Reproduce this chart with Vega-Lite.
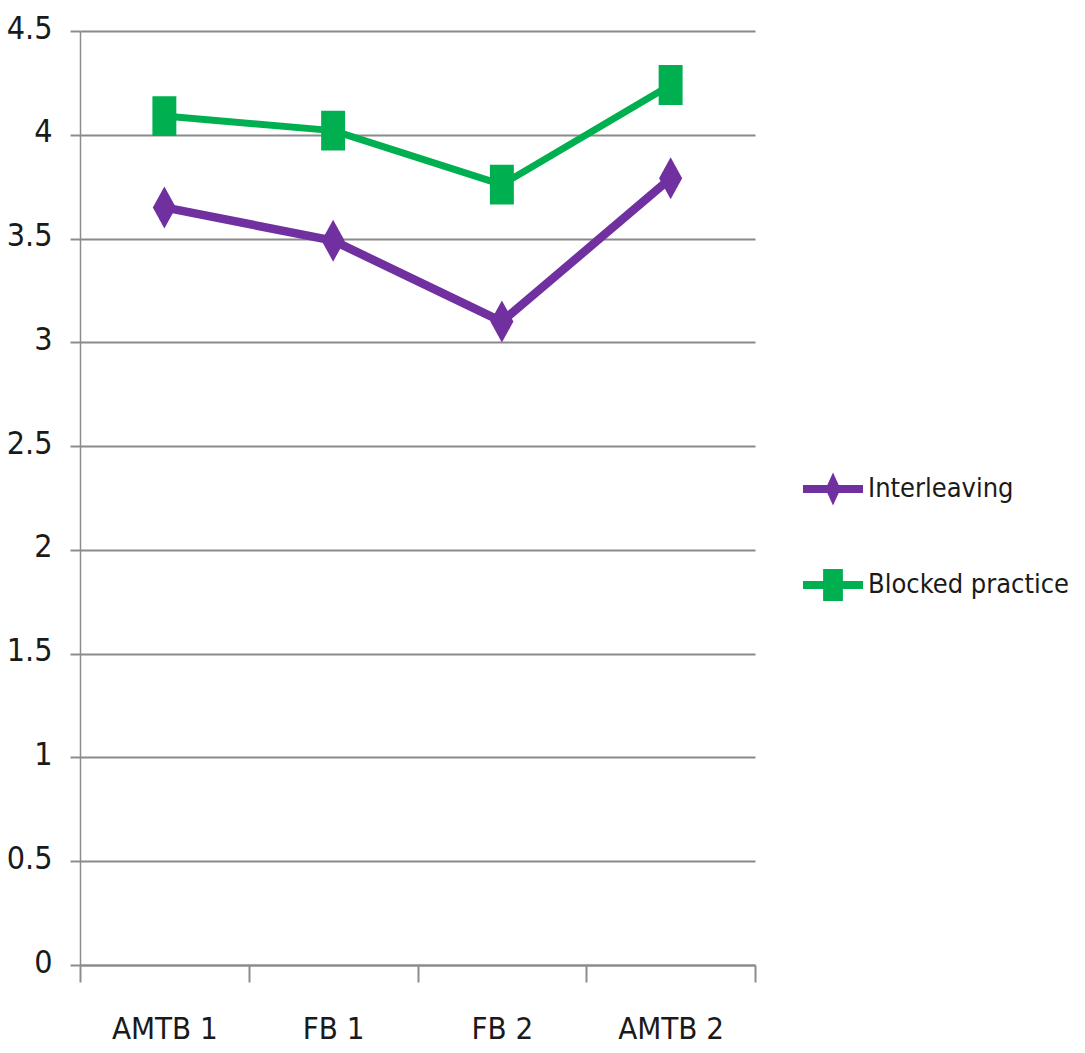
{
  "$schema": "https://vega.github.io/schema/vega-lite/v6.json",
  "autosize": {"type": "none"},
  "padding": {"left": 80, "top": 31, "right": 330, "bottom": 88},
  "width": 675,
  "height": 934,
  "background": "white",
  "config": {
    "view": {"stroke": null},
    "font": "Liberation Sans Narrow, DejaVu Sans Condensed, Liberation Sans, sans-serif"
  },
  "data": {
    "values": [
      {"session": "AMTB 1", "group": "Interleaving", "score": 3.65},
      {"session": "FB 1", "group": "Interleaving", "score": 3.49},
      {"session": "FB 2", "group": "Interleaving", "score": 3.10},
      {"session": "AMTB 2", "group": "Interleaving", "score": 3.79},
      {"session": "AMTB 1", "group": "Blocked practice", "score": 4.09},
      {"session": "FB 1", "group": "Blocked practice", "score": 4.02},
      {"session": "FB 2", "group": "Blocked practice", "score": 3.76},
      {"session": "AMTB 2", "group": "Blocked practice", "score": 4.24}
    ]
  },
  "encoding": {
    "x": {
      "field": "session",
      "type": "nominal",
      "sort": ["AMTB 1", "FB 1", "FB 2", "AMTB 2"],
      "scale": {"type": "band", "paddingInner": 0, "paddingOuter": 0},
      "axis": {
        "title": null,
        "labelAngle": 0,
        "labelFontSize": 31,
        "labelColor": "#1a1a1a",
        "labelPadding": 32,
        "tickBand": "extent",
        "tickSize": 17,
        "tickColor": "#8c8c8c",
        "tickWidth": 2,
        "domainColor": "#8c8c8c",
        "domainWidth": 2,
        "grid": false
      }
    },
    "y": {
      "field": "score",
      "type": "quantitative",
      "scale": {"domain": [0, 4.5], "nice": false, "zero": true},
      "axis": {
        "title": null,
        "values": [0, 0.5, 1, 1.5, 2, 2.5, 3, 3.5, 4, 4.5],
        "format": "~g",
        "labelFontSize": 32,
        "labelColor": "#1a1a1a",
        "labelPadding": 18,
        "labelOffset": -3,
        "tickSize": 10,
        "tickColor": "#8c8c8c",
        "tickWidth": 2,
        "domainColor": "#8c8c8c",
        "domainWidth": 1.5,
        "grid": true,
        "gridColor": "#8a8a8a",
        "gridWidth": 2
      }
    },
    "color": {
      "field": "group",
      "type": "nominal",
      "scale": {
        "domain": ["Interleaving", "Blocked practice"],
        "range": ["#7030A0", "#00B050"]
      },
      "legend": {
        "title": null,
        "orient": "none",
        "legendX": 723,
        "legendY": 428,
        "padding": 0,
        "symbolSize": 3600,
        "symbolStrokeWidth": 0,
        "labelFontSize": 27,
        "labelColor": "#1a1a1a",
        "labelOffset": 5,
        "labelLimit": 0,
        "rowPadding": 49,
        "encode": {
          "symbols": {
            "update": {
              "shape": {
                "signal": "datum.value === 'Interleaving' ? 'M-1,-0.13L1,-0.13L1,0.13L-1,0.13ZM0,-0.55L0.25,0L0,0.55L-0.25,0Z' : 'M-1,-0.13L1,-0.13L1,0.13L-1,0.13ZM-0.33,-0.53L0.33,-0.53L0.33,0.53L-0.33,0.53Z'"
              },
              "fill": {"scale": "color", "field": "value"},
              "opacity": {"value": 1},
              "strokeWidth": {"value": 0}
            }
          }
        }
      }
    }
  },
  "layer": [
    {
      "transform": [{"filter": "datum.group === 'Interleaving'"}],
      "mark": {"type": "line", "strokeJoin": "round", "strokeWidth": 8.5}
    },
    {
      "transform": [{"filter": "datum.group === 'Blocked practice'"}],
      "mark": {"type": "line", "strokeJoin": "round", "strokeWidth": 7}
    },
    {
      "transform": [{"filter": "datum.group === 'Interleaving'"}],
      "mark": {
        "type": "point",
        "filled": true,
        "opacity": 1,
        "size": 1764,
        "shape": "M0,-1L0.55,0L0,1L-0.55,0Z"
      }
    },
    {
      "transform": [{"filter": "datum.group === 'Blocked practice'"}],
      "mark": {
        "type": "point",
        "filled": true,
        "opacity": 1,
        "size": 1764,
        "shape": "M-0.57,-0.95L0.57,-0.95L0.57,0.95L-0.57,0.95Z"
      }
    }
  ]
}
